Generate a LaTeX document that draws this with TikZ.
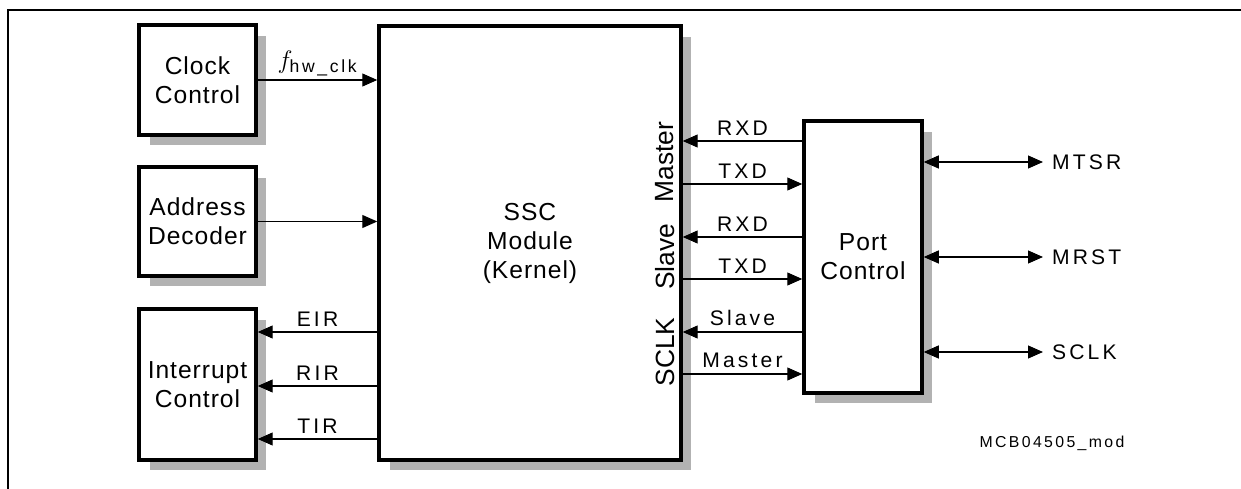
\documentclass[tikz,border=0pt]{standalone}
\usepackage{fontspec}
\setmainfont{Liberation Sans}
\newfontfamily\blockfont[LetterSpace=4]{Liberation Sans}
\newfontfamily\signalfont[LetterSpace=15]{Liberation Sans}
\usetikzlibrary{arrows.meta, shadows}

\begin{document}
\begin{tikzpicture}[x=0.02cm, y=-0.02cm,
  block/.style={draw, line width=2pt, fill=white, align=center,
    font=\blockfont\fontsize{14}{16.5}\selectfont,
    general shadow={fill=black!30, shadow xshift=0.21cm, shadow yshift=-0.21cm}},
  sig/.style={line width=0.6pt, -{Triangle[length=0.3cm, width=0.26cm]}},
  bisig/.style={line width=0.6pt, {Triangle[length=0.3cm, width=0.26cm]}-{Triangle[length=0.3cm, width=0.26cm]}},
  lbl/.style={font=\signalfont\fontsize{12}{12}\selectfont, inner sep=3pt},
  mode/.style={rotate=90, font=\fontsize{15}{15}\selectfont}]
  \useasboundingbox (0,0) rectangle (1241,489);
  \draw[line width=1.1pt] (8,489) -- (8,10) -- (1241,10);

  % Bloecke
  \node[block, minimum width=2.34cm, minimum height=2.2cm] (clk) at (197.5,80) {Clock\\Control};
  \node[block, minimum width=2.34cm, minimum height=2.18cm] (addr) at (197.5,221.5) {Address\\Decoder};
  \node[block, minimum width=2.34cm, minimum height=3.02cm] (int) at (197.5,384.5) {Interrupt\\Control};
  \node[block, minimum width=6.04cm, minimum height=8.68cm] (ssc) at (530,243) {SSC\\Module\\(Kernel)};
  \node[block, minimum width=2.36cm, minimum height=5.44cm] (port) at (863,257) {Port\\Control};

  \node[mode] (mmaster) at (665,162) {Master};
  \node[mode] (mslave) at (665,257) {Slave};
  \node[mode] (msclk) at (665,352) {SCLK};

  % Signale
  \draw[sig] (clk.east) -- (clk.east -| ssc.west)
    node[midway, above=1pt, font=\fontsize{15}{15}\selectfont, inner sep=1pt]
    {$f_{\mbox{\signalfont\fontsize{10}{10}\selectfont hw\_clk}}$};
  \draw[sig] (addr.east) -- (addr.east -| ssc.west);
  \foreach \y/\name in {332/EIR, 386/RIR, 439/TIR}
    \draw[sig] (ssc.west |- 0,\y) -- (int.east |- 0,\y) node[lbl, midway, above] {\name};

  \foreach \y/\name in {141/RXD, 237/RXD, 332/Slave}
    \draw[sig] (port.west |- 0,\y) -- (ssc.east |- 0,\y) node[lbl, midway, above] {\name};
  \foreach \y/\name in {184/TXD, 279/TXD, 374/Master}
    \draw[sig] (ssc.east |- 0,\y) -- (port.west |- 0,\y) node[lbl, midway, above] {\name};

  \foreach \y/\name/\id in {162/MTSR/mtsr, 257/MRST/mrst, 352/SCLK/sclk} {
    \node[lbl, anchor=west, inner xsep=5pt] (\id) at (1043,\y) {\name};
    \draw[bisig] (port.east |- \id) -- (\id.west);
  }

  \node[font=\signalfont\fontsize{9}{9}\selectfont] (figid) at (1052,443) {MCB04505\_mod};
\end{tikzpicture}
\end{document}
